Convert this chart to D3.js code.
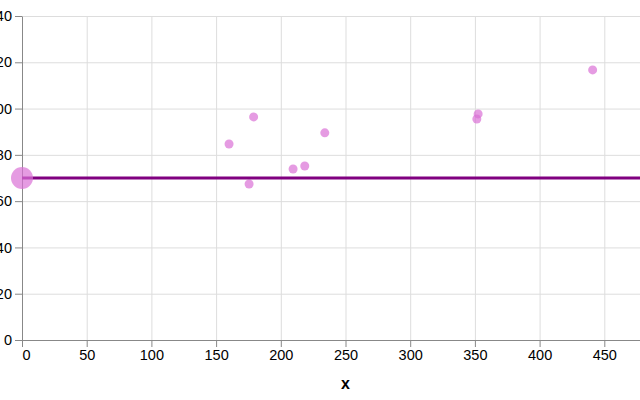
<!DOCTYPE html>
<meta charset="utf-8">
<style>
body { margin: 0; background: #fff; }
text { font-family: 'Liberation Sans', Arial, sans-serif; }
</style>
<body>
<script src="https://d3js.org/d3.v7.min.js"></script>
<script>
// point data
var xs = [160, 179, 175.5, 209.5, 218.5, 234, 351.5, 352.5, 441];
var ys = [84.7, 96.4, 67.4, 73.9, 75.2, 89.5, 95.5, 97.7, 116.7];
// reference level and its marker
var refX = 0, refY = 70;
var xTicks = [0, 50, 100, 150, 200, 250, 300, 350, 400, 450];
var yTicks = [0, 20, 40, 60, 80, 100, 120, 140];

var width = 640, height = 400;
var marginLeft = 22, marginTop = 16, plotW = 647, plotH = 324;

var svg = d3.select("body").append("svg")
    .attr("width", width)
    .attr("height", height);

var x = d3.scaleLinear().domain([0, 500]).range([0, plotW]);
var y = d3.scaleLinear().domain([0, 140]).range([plotH, 0]);

var g = svg.append("g").attr("transform", "translate(" + marginLeft + "," + marginTop + ")");

// grid
g.append("g").selectAll("line").data(xTicks.concat([500])).enter().append("line")
    .attr("x1", d => x(d) + 0.5).attr("x2", d => x(d) + 0.5)
    .attr("y1", 0).attr("y2", plotH)
    .attr("stroke", "#ddd");
g.append("g").selectAll("line").data(yTicks).enter().append("line")
    .attr("y1", d => y(d) + 0.5).attr("y2", d => y(d) + 0.5)
    .attr("x1", 0).attr("x2", plotW)
    .attr("stroke", "#ddd");

// axes
var xAxis = g.append("g").attr("transform", "translate(0," + plotH + ")")
    .call(d3.axisBottom(x).tickValues(xTicks).tickSize(7).tickSizeOuter(0).tickPadding(3));
var yAxis = g.append("g")
    .call(d3.axisLeft(y).tickValues(yTicks).tickSize(7).tickSizeOuter(0).tickPadding(3));
[xAxis, yAxis].forEach(function(a) {
  a.selectAll("path, line").attr("stroke", "#888");
  a.selectAll("text").attr("font-size", 14.5).attr("fill", "#000")
    .attr("font-family", "'Liberation Sans', Arial, sans-serif");
});
// flush the first x label to the axis start
xAxis.selectAll(".tick text").filter(d => d === 0)
    .attr("text-anchor", "start").attr("x", 0);

g.append("text")
    .attr("x", x(250)).attr("y", plotH + 49)
    .attr("text-anchor", "middle")
    .attr("font-size", 16).attr("font-weight", "bold")
    .text("x");

// points
g.append("g").selectAll("circle").data(xs).enter().append("circle")
    .attr("cx", d => x(d))
    .attr("cy", (d, i) => y(ys[i]))
    .attr("r", 4.5)
    .attr("fill", "#da70d6")
    .attr("fill-opacity", 0.7);

// reference rule
g.append("line")
    .attr("x1", x(0)).attr("x2", x(500))
    .attr("y1", y(refY)).attr("y2", y(refY))
    .attr("stroke", "#800080")
    .attr("stroke-width", 3);

g.append("circle")
    .attr("cx", x(refX)).attr("cy", y(refY))
    .attr("r", 11)
    .attr("fill", "#da70d6")
    .attr("fill-opacity", 0.7);
</script>
</body>
